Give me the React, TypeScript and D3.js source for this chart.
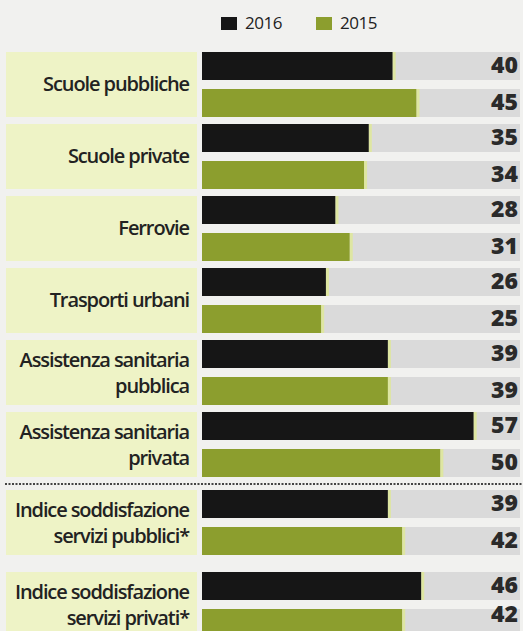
import React from "react";
import * as d3 from "d3";

const categories: string[][] = [
  ["Scuole pubbliche"],
  ["Scuole private"],
  ["Ferrovie"],
  ["Trasporti urbani"],
  ["Assistenza sanitaria", "pubblica"],
  ["Assistenza sanitaria", "privata"],
  ["Indice soddisfazione", "servizi pubblici*"],
  ["Indice soddisfazione", "servizi privati*"],
];
const values2016: number[] = [40, 35, 28, 26, 39, 57, 39, 46];
const values2015: number[] = [45, 34, 31, 25, 39, 50, 42, 42];
const seriesNames: string[] = ["2016", "2015"];

const W = 523;
const H = 631;
const BG = "#f1f1ef";
const PANEL = "#eef3c6";
const TRACK = "#dadada";
const BLACK = "#161616";
const GREEN = "#8c9e2e";
const TEXT = "#222222";
const LABEL_FONT = "'Open Sans', sans-serif";
const NUM_FONT = "'Open Sans', 'DejaVu Sans', sans-serif";

export default function App() {
  const x = d3.scaleLinear().domain([0, 60]).range([202, 488]);
  const trackEnd = 520;
  const barH = 28;
  const pitch = 72;
  const top0 = 52;
  const groupTop = (i: number) => top0 + i * pitch + (i >= 6 ? 6 + (i - 6) * 10 : 0);
  const colors = [BLACK, GREEN];
  const sepY = groupTop(6) - 6;

  return (
    <svg
      width={W}
      height={H}
      style={{ position: "absolute", left: 0, top: 0, display: "block" }}
    >
      <rect x={0} y={0} width={W} height={H} fill={BG} />
      {/* legend */}
      <g>
        {seriesNames.map((s, k) => {
          const lx = k === 0 ? 221 : 316;
          return (
            <g key={s}>
              <rect x={lx} y={17} width={16} height={13} fill={colors[k]} />
              <text
                x={lx + 24}
                y={29}
                fontFamily={NUM_FONT}
                fontSize={17}
                letterSpacing={-0.5}
                fill={TEXT}
              >
                {s}
              </text>
            </g>
          );
        })}
      </g>
      {categories.map((lines, i) => {
        const y0 = groupTop(i);
        const vals = [values2016[i], values2015[i]];
        const cy = y0 + 33;
        return (
          <g key={i}>
            <rect x={6} y={y0} width={191} height={65} fill={PANEL} />
            {lines.map((ln, j) => {
              const yy =
                lines.length === 1 ? cy + 6 : cy + 7 + (j === 0 ? -13 : 13);
              return (
                <text
                  key={j}
                  x={189}
                  y={yy}
                  textAnchor="end"
                  fontFamily={LABEL_FONT}
                  fontWeight={600}
                  fontSize={20}
                  letterSpacing={-1.1}
                  fill={TEXT}
                >
                  {ln}
                </text>
              );
            })}
            {vals.map((v, k) => {
              const by = y0 + k * 36 + (k === 1 ? 1 : 0);
              return (
                <g key={k}>
                  <rect x={x(0)} y={by} width={trackEnd - x(0)} height={barH} fill={TRACK} />
                  <rect x={x(0)} y={by} width={x(v) - x(0)} height={barH} fill={colors[k]} />
                  <rect x={x(v)} y={by} width={3} height={barH} fill="#dfeb8a" opacity={0.7} />
                  <text
                    x={518}
                    y={Math.min(by + barH / 2 + 7, 622)}
                    textAnchor="end"
                    fontFamily={NUM_FONT}
                    fontWeight={800}
                    fontSize={23}
                    fill="#2a2a2a"
                  >
                    {v}
                  </text>
                </g>
              );
            })}
          </g>
        );
      })}
      <line
        x1={5}
        x2={W}
        y1={sepY}
        y2={sepY}
        stroke="#444"
        strokeWidth={2}
        strokeDasharray="2,1.5"
      />
    </svg>
  );
}
